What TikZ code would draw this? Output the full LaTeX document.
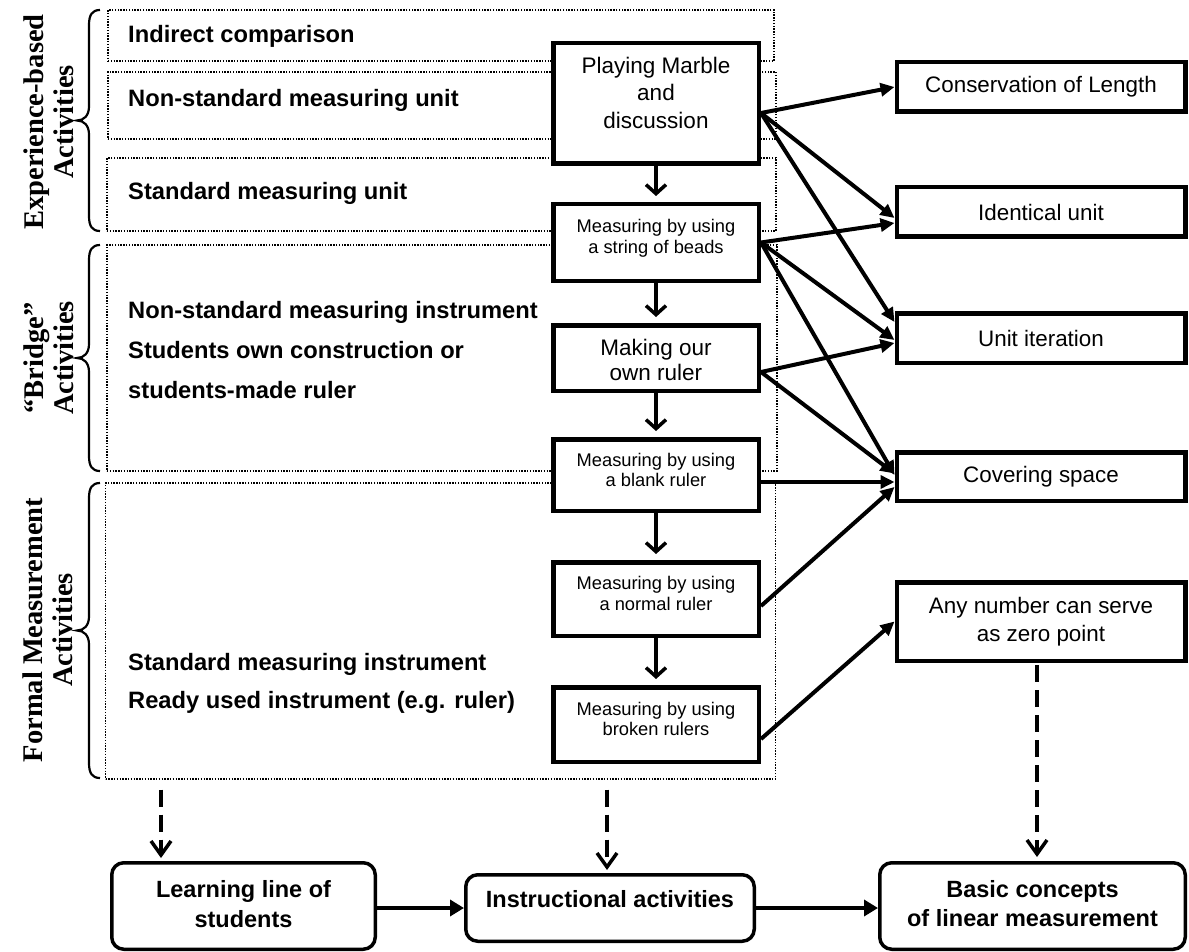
\documentclass[tikz,border=0pt]{standalone}
\usepackage{fontspec}
\setmainfont{Liberation Sans}
\newfontfamily\timesfont{Liberation Serif}
\usetikzlibrary{arrows.meta}
\newcommand{\sidebrace}[2]{%
  \pgfmathsetmacro{\bmid}{(#1+#2)/2}%
  \draw[bracepen] (100,#1) .. controls (92,#1) and (89,#1+5) .. (89,#1+15)
    -- (89,\bmid-14) .. controls (89,\bmid-5) and (84,\bmid) .. (77,\bmid)
    .. controls (84,\bmid) and (89,\bmid+5) .. (89,\bmid+14)
    -- (89,#2-15) .. controls (89,#2-5) and (92,#2) .. (100,#2);}
\begin{document}
\begin{tikzpicture}[x=1pt,y=-1pt,
  dotbox/.style={draw, rectangle, line width=1.4pt, dash pattern=on 1.4pt off 1.4pt, inner sep=0pt},
  actbox/.style={draw, rectangle, line width=4.5pt, fill=white, minimum width=205.5pt, inner sep=0pt},
  conbox/.style={draw, rectangle, line width=4.5pt, fill=white, minimum width=288.5pt, inner sep=0pt,
    font=\fontsize{22.4}{28}\selectfont, align=center},
  endbox/.style={draw, rectangle, line width=3.5pt, rounded corners=12pt, fill=white, inner sep=0pt},
  lefttxt/.style={anchor=base west, inner sep=0pt, font=\fontsize{23.7}{28}\selectfont\bfseries},
  bigtxt/.style={align=center, inner sep=0pt},
  smalltxt/.style={align=center, inner sep=0pt, font=\fontsize{18.3}{20.5}\selectfont},
  bottxt/.style={align=center, inner sep=0pt, font=\fontsize{23.5}{29.5}\selectfont\bfseries},
  sidelabel/.style={rotate=90, align=center, inner sep=0pt, font=\timesfont\bfseries\fontsize{28.5}{30}\selectfont},
  bracepen/.style={line width=2.2pt},
  link/.style={line width=4pt, -{Triangle[length=14pt,width=13pt]}},
  steparrow/.style={line width=3.5pt, -{Straight Barb[length=9pt,width=20pt]}, shorten >=6pt},
  dasharrow/.style={line width=3.5pt, dash pattern=on 17pt off 8pt, -{Straight Barb[length=14pt,width=20pt]}},
  flowarrow/.style={line width=4.5pt, -{Triangle[length=14pt,width=16pt]}}
]
\useasboundingbox (0,0) rectangle (1189,952);

% dotted activity groups
\node[dotbox, minimum width=666pt, minimum height=51pt] (g1) at (441,35.5) {};
\node[dotbox, minimum width=668pt, minimum height=67pt] (g2) at (442,105.5) {};
\node[dotbox, minimum width=669pt, minimum height=73pt] (g3) at (441.5,194.5) {};
\node[dotbox, minimum width=670pt, minimum height=226pt] (g4) at (442,358) {};
\node[dotbox, minimum width=670pt, minimum height=296pt] (formal) at (440.5,631) {};

% group texts
\node[lefttxt] (t1) at (128,43) {Indirect comparison};
\node[lefttxt] (t2) at (128,107) {Non-standard measuring unit};
\node[lefttxt] (t3) at (128,200) {Standard measuring unit};
\node[lefttxt] (t4) at (128,318) {Non-standard measuring instrument};
\node[lefttxt] (t5) at (128,358) {Students own construction or};
\node[lefttxt] (t6) at (128,398) {students-made ruler};
\node[lefttxt] (t7) at (128,670) {Standard measuring instrument};
\node[lefttxt] (t8) at (128,708) {Ready used instrument (e.g. ruler)};

% braces and side labels
\sidebrace{10}{231}
\sidebrace{245}{471}
\sidebrace{483}{778}
\node[sidelabel] (s1) at (49,122) {Experience-based\\Activities};
\node[sidelabel] (s2) at (49,358) {“Bridge”\\Activities};
\node[sidelabel] (s3) at (48,630) {Formal Measurement\\Activities};

% activity boxes
\node[actbox, minimum height=120.5pt] (A) at (656,103.5) {};
\node[actbox, minimum height=76.5pt] (B) at (656,242.5) {};
\node[actbox, minimum height=65.5pt] (C) at (656,358) {};
\node[actbox, minimum height=71.5pt] (D) at (656,475) {};
\node[actbox, minimum height=73.5pt] (E) at (656,599) {};
\node[actbox, minimum height=74.5pt] (F) at (656,724.5) {};
\node[bigtxt, font=\fontsize{22.5}{27.5}\selectfont] (At) at (656,92.5) {Playing Marble\\and\\discussion};
\node[smalltxt] (Bt) at (656,238.5) {Measuring by using\\a string of beads};
\node[bigtxt, font=\fontsize{22.5}{25}\selectfont] (Ct) at (656,359.5) {Making our\\own ruler};
\node[smalltxt] (Dt) at (656,470) {Measuring by using\\a blank ruler};
\node[smalltxt] (Et) at (656,593.5) {Measuring by using\\a normal ruler};
\node[smalltxt] (Ft) at (656,719) {Measuring by using\\broken rulers};

\draw[steparrow] (A.south) -- (B.north);
\draw[steparrow] (B.south) -- (C.north);
\draw[steparrow] (C.south) -- (D.north);
\draw[steparrow] (D.south) -- (E.north);
\draw[steparrow] (E.south) -- (F.north);

% concept boxes
\node[conbox, minimum height=49.5pt] (R1) at (1041,87) {Conservation of Length};
\node[conbox, minimum height=49.5pt] (R2) at (1041,212) {Identical unit};
\node[conbox, minimum height=49.5pt] (R3) at (1041,338) {Unit iteration};
\node[conbox, minimum height=48.5pt] (R4) at (1041,476.5) {Covering space};
\node[conbox, minimum height=78.5pt] (R5) at (1041,621.5) {Any number can serve\\as zero point};

% links
\draw[link] ([yshift=-9.5pt]A.east) -- (R1.west);
\draw[link] ([yshift=-9.5pt]A.east) -- ([yshift=-6pt]R2.west);
\draw[link] ([yshift=-9.5pt]A.east) -- ([yshift=16pt]R3.west);
\draw[link] (B.east) -- ([yshift=-11pt]R2.west);
\draw[link] (B.east) -- ([yshift=-2pt]R3.west);
\draw[link] (B.east) -- ([yshift=1.5pt]R4.west);
\draw[link] ([yshift=-14pt]C.east) -- ([yshift=-5pt]R3.west);
\draw[link] ([yshift=-14pt]C.east) -- ([yshift=3pt]R4.west);
\draw[link] ([yshift=-7pt]D.east) -- ([yshift=-5.5pt]R4.west);
\draw[link] ([yshift=-7pt]E.east) -- ([yshift=-10.5pt]R4.west);
\draw[link] ([yshift=-14.5pt]F.east) -- (R5.west);

% bottom boxes
\node[endbox, minimum width=263.5pt, minimum height=86.5pt] (L1) at (243.5,906) {};
\node[endbox, minimum width=288.5pt, minimum height=66.5pt] (L2) at (610,908) {};
\node[endbox, minimum width=305.5pt, minimum height=86.5pt] (L3) at (1032.5,906) {};
\node[bottxt] (L1t) at (243.5,904) {Learning line of\\students};
\node[bottxt] (L2t) at (610,899.5) {Instructional activities};
\node[bottxt] (L3t) at (1032.5,903.5) {Basic concepts\\of linear measurement};

\draw[flowarrow] (L1.east |- L2.west) -- (L2.west);
\draw[flowarrow] (L2.east) -- (L3.west |- L2.east);

% dashed arrows
\coordinate (dl) at ([xshift=-279.5pt,yshift=-10pt]formal.south);
\coordinate (dm) at ([xshift=166.5pt,yshift=-10pt]formal.south);
\coordinate (dr) at ([xshift=-4pt,yshift=-2pt]R5.south);
\draw[dasharrow, shorten >=3pt] (dl) -- (dl |- L1.north);
\draw[dasharrow, shorten >=3pt] (dm) -- (dm |- L2.north);
\draw[dasharrow, shorten >=4pt] (dr) -- (dr |- L3.north);
\end{tikzpicture}
\end{document}
